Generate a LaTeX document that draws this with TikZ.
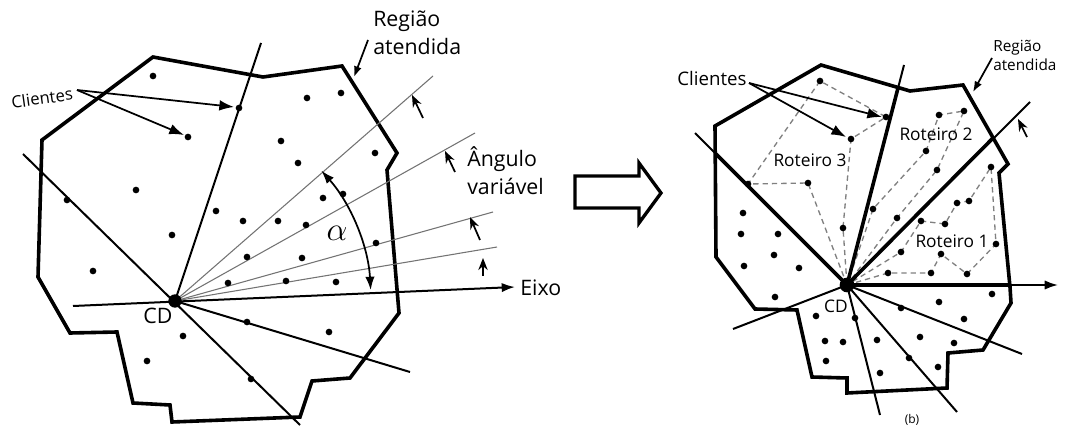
\documentclass[tikz,border=0pt]{standalone}
\usepackage{fontspec}
\setmainfont{Open Sans}
\usetikzlibrary{arrows.meta}
\begin{document}
\begin{tikzpicture}[x=0.75pt,y=-0.75pt,
  region/.style={line width=2.7pt,line join=miter},
  cut/.style={line width=1.5pt},
  thickcut/.style={line width=2.7pt},
  ray/.style={line width=0.8pt,draw=black!55},
  route/.style={line width=1pt,draw=black!50,dash pattern=on 4pt off 3pt},
  smallarrow/.style={line width=1.3pt,-{Stealth[length=9pt,width=7pt]}},
  callout/.style={line width=1.3pt,-{Latex[length=11pt,width=8pt]}},
  dot/.style={circle,fill=black,inner sep=0pt,minimum size=5pt},
  lbl/.style={inner sep=0pt,font=\fontsize{16}{21}\selectfont},
  lbls/.style={inner sep=0pt,font=\fontsize{13}{17}\selectfont}]
\useasboundingbox (0,0) rectangle (1066,427);

% ================= LEFT FIGURE =================
\coordinate (CD) at (175,301);
\draw[region] (153,57) -- (263,77) -- (342,66) -- (397,153) -- (387,170) -- (399,313)
  -- (350,378) -- (312,381) -- (300,417) -- (172,422) -- (170,405) -- (133,403)
  -- (117,332) -- (70,333) -- (38,277) -- (42,140) -- cycle;
% sweep rays
\foreach \p in {(433,76),(475,133),(493,212),(497,247)} \draw[ray] (CD) -- \p;
% cut lines
\coordinate (l1) at (261,43);
\coordinate (l2a) at (23,154);
\coordinate (l2b) at (300,425);
\coordinate (l3) at (410,372);
\coordinate (ax0) at (73,306);
\coordinate (ax1) at (515,287);
\draw[cut] (CD) -- (l1);
\draw[cut] (l2a) -- (l2b);
\draw[cut] (CD) -- (l3);
\draw[cut,-{Latex[length=10pt,width=7pt]}] (ax0) -- (ax1);
% dots
\foreach \p in {(153,76),(188,137),(239,108),(307,98),(341,93),(281,141),(298,163),(375,153),
  (136,190),(216,211),(243,221),(278,221),(323,198),(343,194),(306,225),(376,243),(172,235),
  (247,257),(302,258),(93,271),(228,283),(286,281),(336,282),(67,200),(247,322),(329,332),
  (183,336),(147,361),(251,379)} \node[dot] at \p {};
\node[circle,fill=black,inner sep=0pt,minimum size=10pt] (cdL) at (CD) {};
% rotation arrows
\draw[smallarrow] (423,118) -- (412,95);
\draw[smallarrow] (455,172) -- (445,151);
\draw[smallarrow] (480,240) -- (470,217);
\draw[smallarrow] (483,276) -- (483,258);
% alpha arc
\draw[line width=1.3pt,{Latex[length=10pt,width=7pt]}-{Latex[length=10pt,width=7pt]}]
  (CD) ++(-3.2:196) arc[start angle=-3.2,end angle=-41.7,radius=196];
\node[inner sep=0pt,font=\fontsize{28}{28}\selectfont] (alpha) at (337,233) {$\alpha$};
% labels
\node[inner sep=0pt,font=\fontsize{12.5}{15}\selectfont,rotate=8] (cliL) at (42,98) {Clientes};
\coordinate (cliLo) at (77,90);
\draw[callout] (cliLo) -- (234,107);
\draw[callout] (cliLo) -- (184,135);
\node[lbl,align=left,anchor=north west] (regL) at (373,11) {Região\\atendida};
\draw[line width=1.3pt,-{Latex[length=8pt,width=6pt]}] (368,40) -- (354,77);
\node[lbl,align=left,anchor=north west] (angL) at (467,146) {Ângulo\\variável};
\node[lbl,anchor=west] (eixo) at (520,288) {Eixo};
\node[lbl] (cdLtxt) at (158,316) {CD};

% ================= BIG ARROW =================
\draw[line width=2.5pt,line join=miter] (575,176) -- (639,176) -- (639,163) -- (661,193)
  -- (639,223) -- (639,208) -- (575,208) -- cycle;

% ================= RIGHT FIGURE =================
\coordinate (CR) at (847,285);
\draw[region] (821,65) -- (910,91) -- (963,85) -- (1008,164) -- (999,173) -- (1010,287)
  -- (1011,303) -- (983,350) -- (948,353) -- (947,388) -- (847,393) -- (847,378)
  -- (812,377) -- (797,310) -- (755,309) -- (716,257) -- (715,126) -- cycle;
% routes
\draw[route] (CR) -- (808,183) -- (748,184) -- (820,81) -- (886,117) -- (851,139) -- (843,228) -- (CR);
\draw[route] (CR) -- (873,209) -- (926,151) -- (939,115) -- (964,111) -- (937,170) -- (897,218) -- (CR);
\draw[route] (CR) -- (888,273) -- (931,273) -- (941,254) -- (967,274) -- (996,244) -- (991,167)
  -- (969,201) -- (957,203) -- (945,224) -- (921,221) -- (901,252) -- (CR);
% cut lines
\draw[cut] (CR) -- (904,65);
\draw[thickcut] (CR) -- (898,88);
\draw[cut] (CR) -- (1030,102);
\draw[thickcut] (CR) -- (993,138);
\draw[cut] (CR) -- (695,133);
\draw[thickcut] (CR) -- (716,154);
\draw[thickcut] (CR) -- (1010,285);
\draw[cut,-{Latex[length=10pt,width=7pt]}] (1010,285) -- (1058,285);
\draw[cut] (CR) -- (733,329);
\draw[cut] (CR) -- (880,415);
\draw[cut] (CR) -- (957,412);
\draw[cut] (CR) -- (1022,354);
% dots
\foreach \p in {(820,81),(886,117),(851,139),(843,228),(808,183),(748,184),
  (873,209),(926,151),(939,115),(964,111),(937,170),(897,218),
  (888,273),(931,273),(941,254),(967,274),(996,244),(991,167),(969,201),(957,203),(945,224),(921,221),(901,252),
  (743,213),(741,234),(778,234),(774,255),(744,266),(799,268),(775,297),(816,316),(825,341),(843,342),
  (826,361),(855,318),(877,340),(880,373),(901,308),(920,337),(909,358),(938,367),(954,343),(964,319),
  (939,302),(992,294)} \node[dot] at \p {};
\node[circle,fill=black,inner sep=0pt,minimum size=11pt] (cdR) at (CR) {};
% rotation arrow
\draw[smallarrow] (1027,137) -- (1018,119);
% labels
\node[inner sep=0pt,font=\fontsize{14}{17}\selectfont] (cliR) at (712,79) {Clientes};
\coordinate (cliRo) at (749,83);
\draw[callout] (cliRo) -- (882,117);
\draw[callout] (cliRo) -- (846,137);
\node[inner sep=0pt,align=left,anchor=north west,font=\fontsize{11.5}{14.5}\selectfont] (regR) at (993,40) {Região\\atendida};
\draw[line width=1.3pt,-{Latex[length=8pt,width=6pt]}] (992,58) -- (973,92);
\node[lbls] (r3) at (810,160) {Roteiro 3};
\node[lbls] (r2) at (936,134) {Roteiro 2};
\node[lbls] (r1) at (952,241) {Roteiro 1};
\node[inner sep=0pt,font=\fontsize{13}{15}\selectfont] (cdRtxt) at (836,306) {CD};
\node[inner sep=0pt,anchor=south,font=\fontsize{9}{10}\selectfont] (b) at (912,426) {(b)};
\end{tikzpicture}
\end{document}
